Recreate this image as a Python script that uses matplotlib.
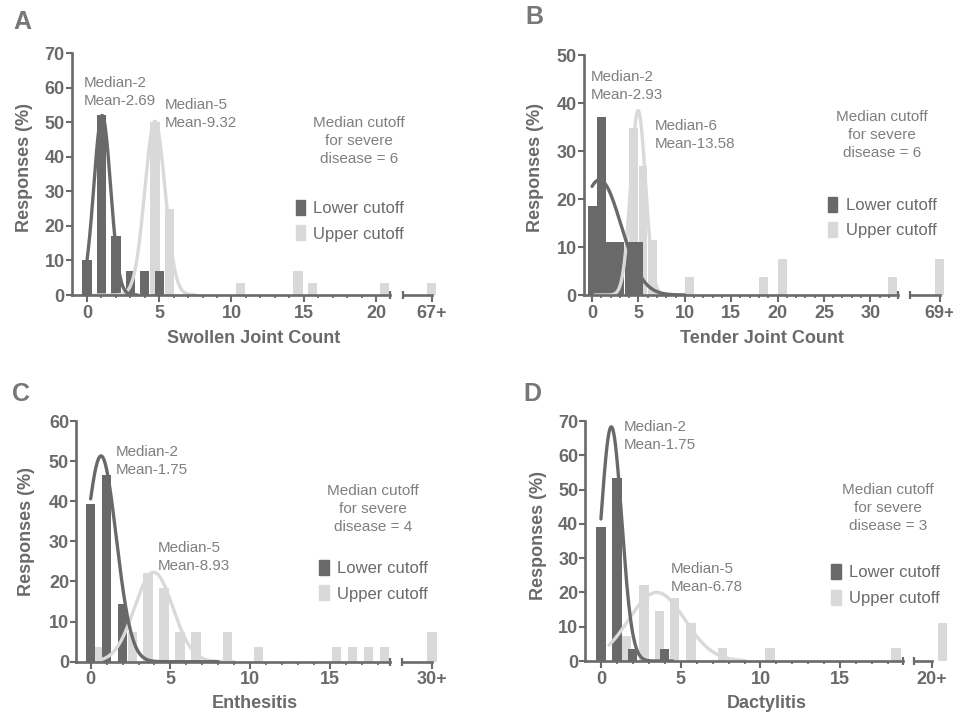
import numpy as np
import matplotlib
matplotlib.use('Agg')
import matplotlib.pyplot as plt
from matplotlib.patches import Patch

plt.rcParams['font.family'] = ['Liberation Sans', 'DejaVu Sans']

W, H = 954, 717
DARK = '#696969'
LIGHT = '#d9d9d9'
AXIS = '#6a6a6a'
TXT = '#7f7f7f'

# --- data ---
# A: swollen joint count
a_lower_x = [0, 1, 2, 3, 4, 5]
a_lower_pct = [10.1, 52, 17.1, 6.9, 6.9, 6.9]
a_upper_x = [4.7, 5.7, 10.6, 14.6, 15.6, 20.6, 23.85]
a_upper_pct = [50, 24.8, 3.6, 7.0, 3.6, 3.6, 3.6]
a_lower_fit = [52, 1.05, 0.58]    # gaussian fit: amplitude, mean, sd
a_upper_fit = [50.3, 4.7, 0.7]
a_ticks = [0, 5, 10, 15, 20, 23.85]
a_ticklabels = ['0', '5', '10', '15', '20', '67+']

# B: tender joint count
b_lower_x = [0.05, 1, 2, 3, 4, 5]
b_lower_pct = [18.5, 37, 11.1, 11.1, 11.1, 11.1]
b_upper_x = [4.5, 5.5, 6.5, 10.5, 18.5, 20.5, 32.4, 37.5]
b_upper_pct = [34.7, 26.9, 11.5, 3.8, 3.8, 7.6, 3.8, 7.6]
b_lower_fit = [24, 0.8, 2.33]
b_upper_fit = [38.4, 4.97, 0.8]
b_ticks = [0, 5, 10, 15, 20, 25, 30, 37.5]
b_ticklabels = ['0', '5', '10', '15', '20', '25', '30', '69+']

# C: enthesitis
c_lower_x = [0, 1, 2]
c_lower_pct = [39.3, 46.6, 14.4]
c_upper_x = [0.55, 2.6, 3.6, 4.6, 5.6, 6.6, 8.6, 10.5, 15.4, 16.4, 17.4, 18.4, 21.4]
c_upper_pct = [3.6, 7.4, 22, 18.3, 7.4, 7.4, 7.4, 3.6, 3.6, 3.6, 3.6, 3.6, 7.4]
c_lower_fit = [51.3, 0.65, 0.95]
c_upper_fit = [22.3, 3.95, 1.2]
c_ticks = [0, 5, 10, 15, 21.4]
c_ticklabels = ['0', '5', '10', '15', '30+']

# D: dactylitis
d_lower_x = [0, 1, 2, 4]
d_lower_pct = [39.2, 53.5, 3.4, 3.4]
d_upper_x = [1.6, 2.7, 3.65, 4.6, 5.65, 7.6, 10.6, 18.5, 21.4]
d_upper_pct = [7.4, 22.2, 14.7, 18.3, 11, 3.7, 3.7, 3.7, 11]
d_lower_fit = [68.3, 0.65, 0.65]
d_upper_fit = [20, 3.5, 1.75]
d_ticks = [0, 5, 10, 15, 20.75]
d_ticklabels = ['0', '5', '10', '15', '20+']


def gauss(x, amp, mu, sd):
    return amp * np.exp(-(x - mu) ** 2 / (2 * sd ** 2))


def fx(px):
    return px / W


def fy(py):
    return 1 - py / H


fig = plt.figure(figsize=(W / 100, H / 100), dpi=100)


def panel(box, xlim, ymax, seg_end, seg2_start, minor_max, width,
          lower_x, lower_pct, upper_x, upper_pct,
          lower_fit, lower_rng, upper_fit, upper_rng, ticks, ticklabels):
    left, top, right, bottom = box
    ax = fig.add_axes([fx(left), fy(bottom), (right - left) / W, (bottom - top) / H])
    ax.bar(upper_x, upper_pct, width=width, color=LIGHT, zorder=1)
    ax.bar(lower_x, lower_pct, width=width, color=DARK, zorder=2)
    xs = np.linspace(upper_rng[0], upper_rng[1], 300)
    ax.plot(xs, gauss(xs, *upper_fit), color=LIGHT, lw=2.4, zorder=3, solid_capstyle='round')
    xs = np.linspace(lower_rng[0], lower_rng[1], 300)
    ax.plot(xs, gauss(xs, *lower_fit), color=DARK, lw=2.4, zorder=4, solid_capstyle='round')

    ax.set_xlim(*xlim)
    ax.set_ylim(0, ymax)
    ax.set_yticks(range(0, ymax + 1, 10))
    ax.set_xticks(ticks)
    ax.set_xticklabels(ticklabels)
    ax.set_xticks(range(0, minor_max + 1), minor=True)

    for s in ['top', 'right', 'bottom']:
        ax.spines[s].set_visible(False)
    ax.spines['left'].set_color(AXIS)
    ax.spines['left'].set_linewidth(1.9)

    # broken x axis drawn as two segments
    ax.plot([xlim[0], seg_end], [0, 0], color=AXIS, lw=1.9, clip_on=False, zorder=5)
    ax.plot([seg2_start, ticks[-1]], [0, 0], color=AXIS, lw=1.9, clip_on=False, zorder=5)
    ax.plot([seg_end, seg2_start], [0, 0], ls='none', marker='|', ms=6, mew=1.6,
            color=AXIS, clip_on=False, zorder=5)

    ax.tick_params(axis='y', length=4.5, width=1.5, color=AXIS, labelcolor=AXIS,
                   labelsize=13, pad=0.5)
    ax.tick_params(axis='x', which='major', length=5, width=1.5, color=AXIS,
                   labelcolor=AXIS, labelsize=13, pad=2)
    ax.tick_params(axis='x', which='minor', length=2.5, width=1.3, color=AXIS)
    for lbl in ax.get_xticklabels() + ax.get_yticklabels():
        lbl.set_fontweight('bold')
    return ax


panel((71.7, 53.3, 438.1, 295), (-1.06, 24.3), 70, 21.0, 21.85, 21, 0.64,
      a_lower_x, a_lower_pct, a_upper_x, a_upper_pct,
      a_lower_fit, (0, 3.5), a_upper_fit, (0.5, 7.5), a_ticks, a_ticklabels)
panel((583.7, 55, 944.5, 295), (-0.9, 38.0), 50, 32.95, 34.25, 33, 0.95,
      b_lower_x, b_lower_pct, b_upper_x, b_upper_pct,
      b_lower_fit, (0, 10), b_upper_fit, (0.3, 8), b_ticks, b_ticklabels)
panel((76, 421, 438.4, 661.7), (-0.92, 21.8), 60, 18.77, 19.5, 18, 0.58,
      c_lower_x, c_lower_pct, c_upper_x, c_upper_pct,
      c_lower_fit, (0, 8), c_upper_fit, (0.5, 9), c_ticks, c_ticklabels)
panel((585.3, 421, 950.3, 661), (-0.98, 21.9), 70, 18.93, 19.64, 18, 0.58,
      d_lower_x, d_lower_pct, d_upper_x, d_upper_pct,
      d_lower_fit, (0, 4.5), d_upper_fit, (0.5, 9), d_ticks, d_ticklabels)

# panel letters
for letter, x, y in [('A', 13.3, 10), ('B', 525.3, 5), ('C', 11.7, 382), ('D', 523.7, 382)]:
    fig.text(fx(x), fy(y), letter, fontsize=18, fontweight='bold', color='#777777',
             ha='left', va='top')

# axis titles
for x, y in [(25, 168), (535.3, 168), (26.7, 531.7), (538.7, 535)]:
    fig.text(fx(x), fy(y), 'Responses (%)', rotation=90, fontsize=13, fontweight='bold',
             color=AXIS, ha='center', va='center')
for label, x, y in [('Swollen Joint Count', 253.3, 343.3), ('Tender Joint Count', 762, 343.3),
                    ('Enthesitis', 255, 708.3), ('Dactylitis', 766.3, 707.7)]:
    fig.text(fx(x), fy(y), label, fontsize=13, fontweight='bold', color=AXIS,
             ha='center', va='baseline')

# median / mean annotations
notes = [
    ('Median-2\nMean-2.69', 83.3, 76), ('Median-5\nMean-9.32', 165, 98),
    ('Median-2\nMean-2.93', 590.3, 69.7), ('Median-6\nMean-13.58', 654.3, 118.7),
    ('Median-2\nMean-1.75', 116, 444.7), ('Median-5\nMean-8.93', 157.3, 540.7),
    ('Median-2\nMean-1.75', 623.7, 419.7), ('Median-5\nMean-6.78', 671, 562.3),
]
for s, x, y in notes:
    fig.text(fx(x), fy(y), s, fontsize=10.9, color=TXT, ha='left', va='top', linespacing=1.35)

cutoffs = [('6', 359.3, 116), ('6', 882, 109.7), ('4', 373.3, 483.7), ('3', 888, 483)]
for v, x, y in cutoffs:
    fig.text(fx(x), fy(y), 'Median cutoff\nfor severe\ndisease = ' + v, fontsize=11,
             color=TXT, ha='center', va='top', multialignment='center', linespacing=1.38)

# legends
handles = [Patch(color=DARK, label='Lower cutoff'), Patch(color=LIGHT, label='Upper cutoff')]
for x, y in [(295.7, 200), (828, 196.7), (319.3, 560), (831.3, 564.3)]:
    fig.legend(handles=handles, loc='upper left', bbox_to_anchor=(fx(x), fy(y)),
               bbox_transform=fig.transFigure, frameon=False, fontsize=12,
               handlelength=0.56, handleheight=1.0, handletextpad=0.5,
               labelspacing=0.55, borderpad=0, borderaxespad=0, labelcolor=AXIS)

fig.savefig('out.png', dpi=100)
